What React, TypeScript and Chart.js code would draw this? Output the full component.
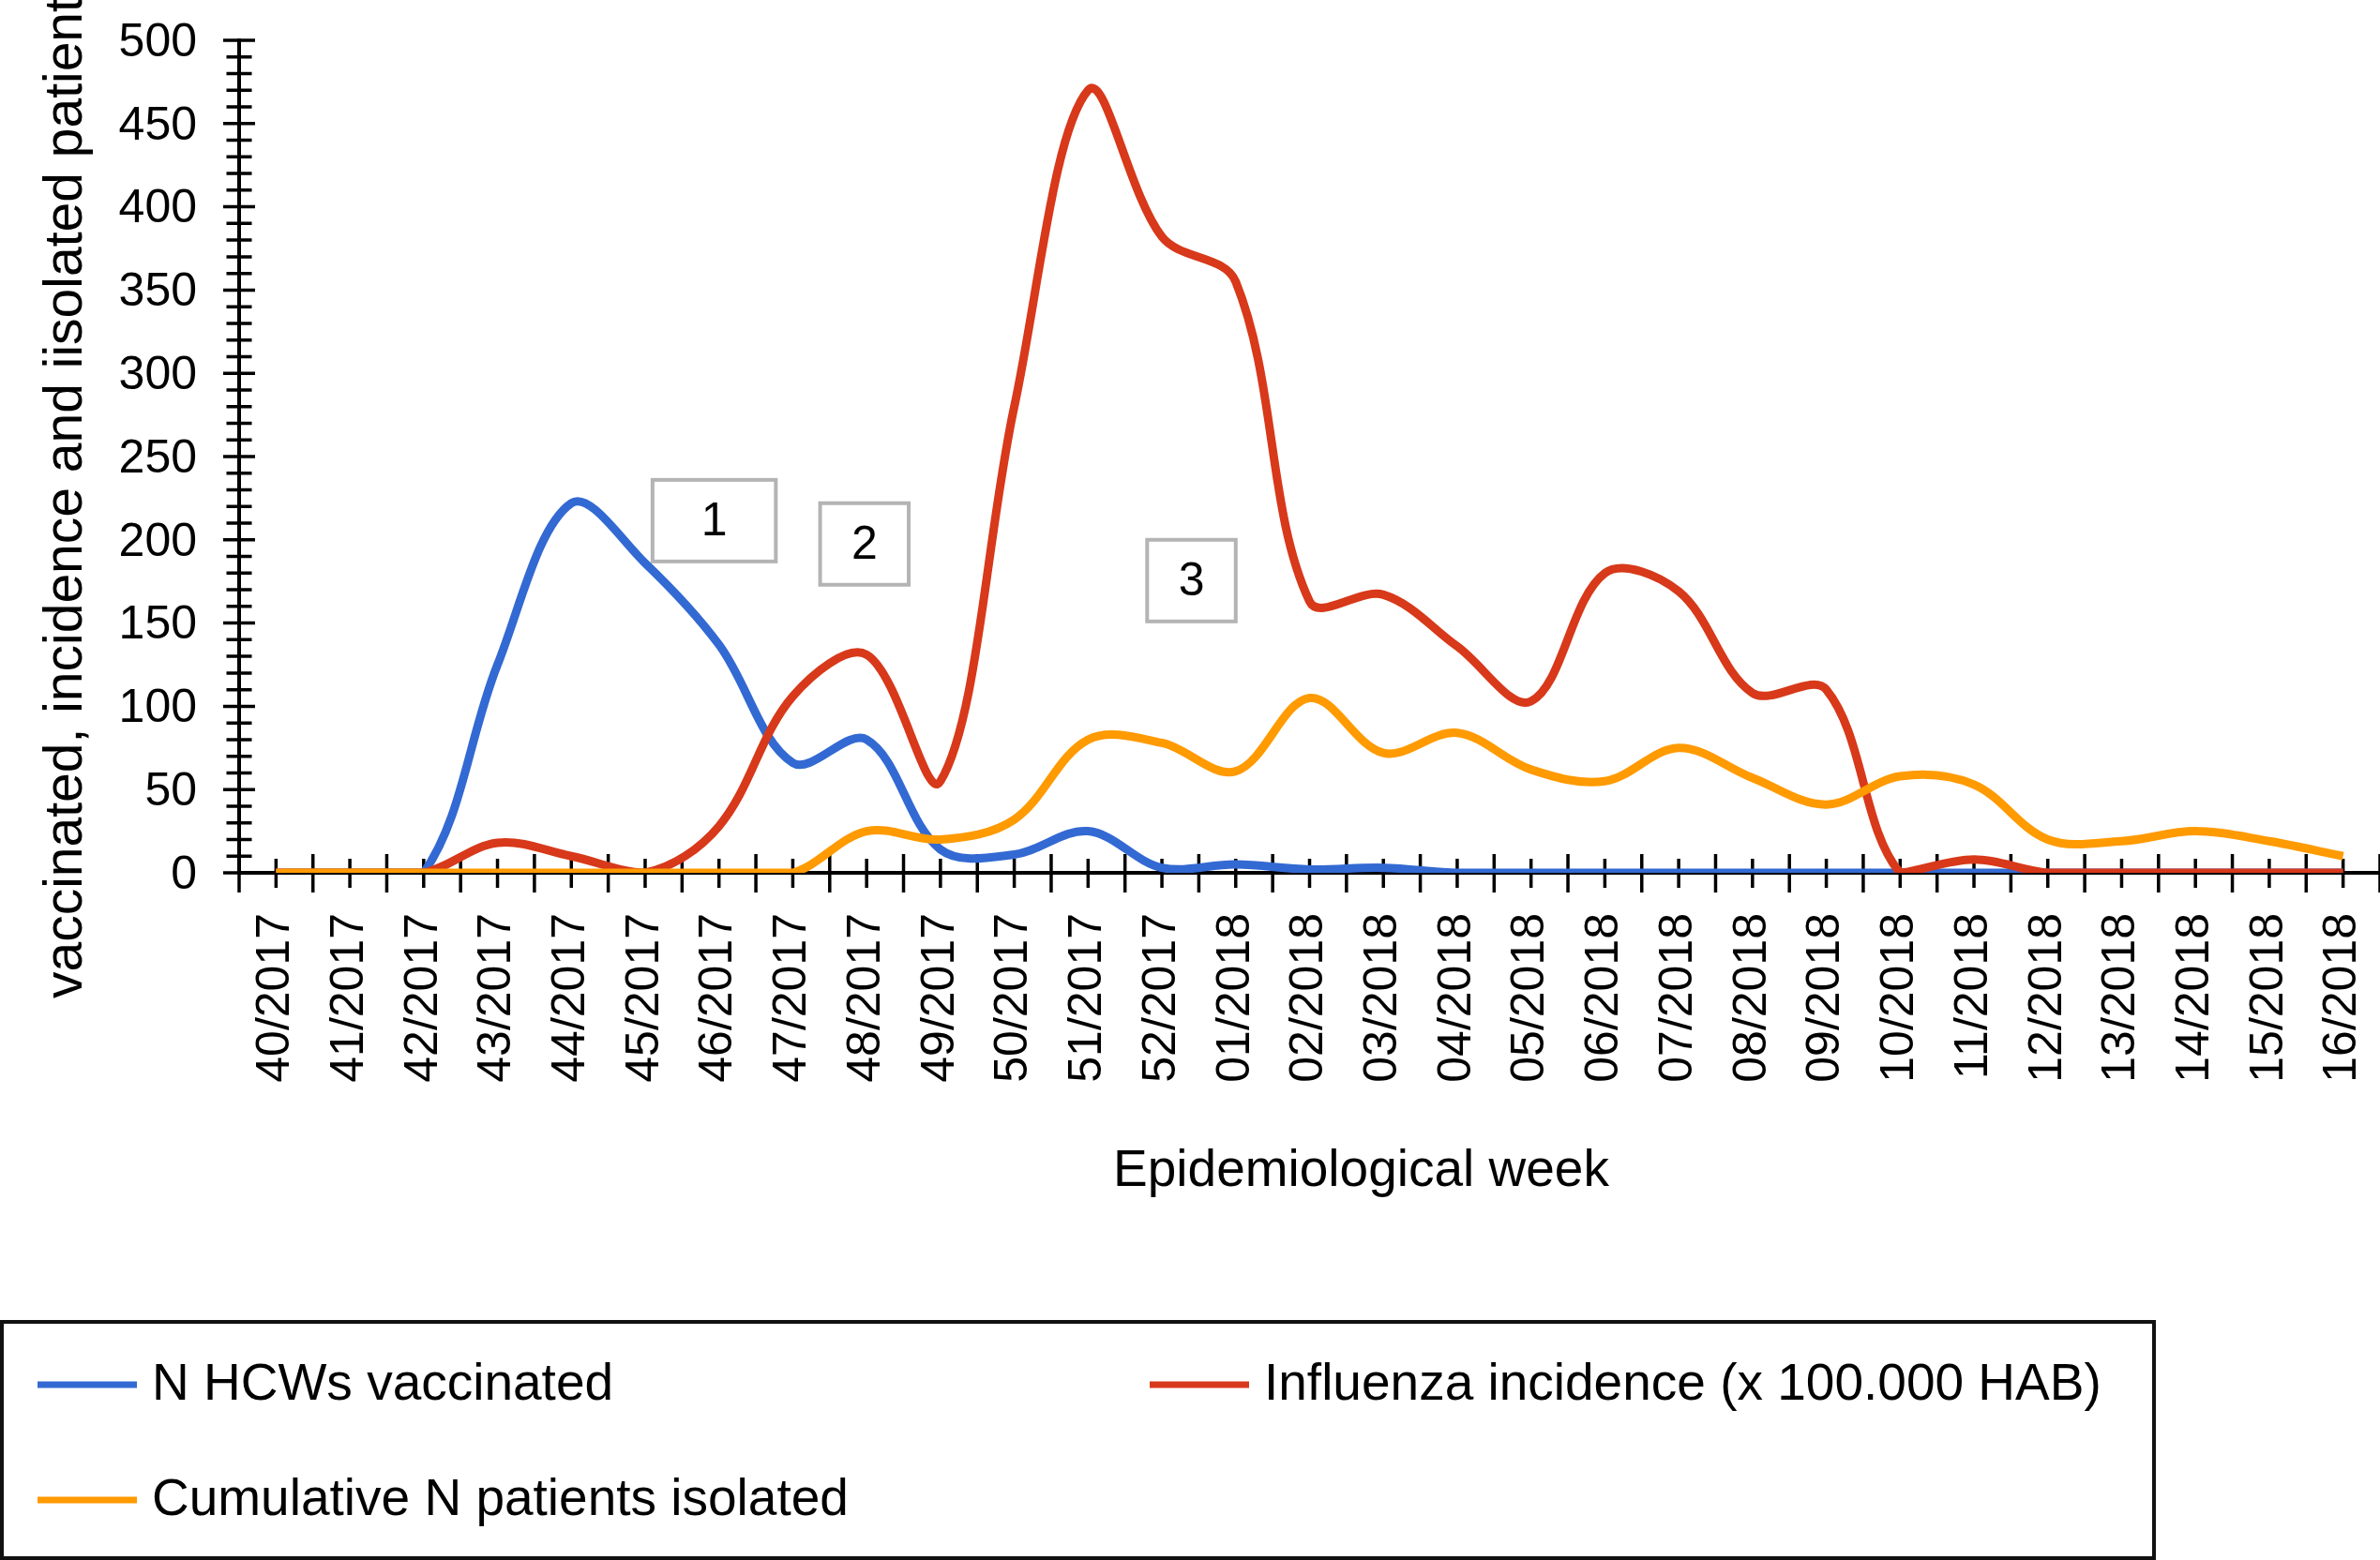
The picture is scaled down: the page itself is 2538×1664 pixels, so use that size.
import { useEffect, useRef } from "react";
import { Chart, registerables, type Plugin } from "chart.js";

Chart.register(...registerables);

const weeks = [
  "40/2017", "41/2017", "42/2017", "43/2017", "44/2017", "45/2017", "46/2017",
  "47/2017", "48/2017", "49/2017", "50/2017", "51/2017", "52/2017",
  "01/2018", "02/2018", "03/2018", "04/2018", "05/2018", "06/2018", "07/2018",
  "08/2018", "09/2018", "10/2018", "11/2018", "12/2018", "13/2018", "14/2018",
  "15/2018", "16/2018",
];

const vaccinated = [0, 0, 0, 125, 222, 186, 137, 66, 80, 14, 11, 25, 3, 5, 2, 3, 0, 0, 0, 0, 0, 0, 0, 0, 0, 0, 0, 0, 0];
const incidence = [0, 0, 0, 18, 10, 0, 28, 106, 131, 55, 280, 470, 382, 355, 163, 167, 136, 103, 180, 169, 108, 110, 0, 8, 0, 0, 0, 0, 0];
const isolated = [0, 0, 0, 0, 0, 0, 0, 0, 25, 20, 32, 80, 78, 61, 105, 72, 84, 62, 55, 75, 57, 41, 58, 53, 20, 19, 25, 19, 10];

const seriesNames = ["N HCWs vaccinated", "Influenza incidence (x 100.000 HAB)", "Cumulative N patients isolated"];
const seriesColors = ["#3369D2", "#D7391A", "#FF9A00"];

const yMax = 500;
const yStep = 50;
const yMinorStep = 10;

const xTitle = "Epidemiological week";
const yTitle = "vaccinated, incidence and iisolated patients";

// numbered boxes: category span (fractional index) and value span
const notes = [
  { text: "1", from: 5.1, to: 6.77, top: 236, bottom: 187 },
  { text: "2", from: 7.37, to: 8.57, top: 222, bottom: 173 },
  { text: "3", from: 11.8, to: 13.0, top: 200, bottom: 151 },
];

const FONT = '"Liberation Sans", Arial, Helvetica, sans-serif';

const decorations: Plugin<"line"> = {
  id: "decorations",
  beforeDatasetsDraw(chart) {
    const { ctx, chartArea: a, scales } = chart;
    const x = scales.x;
    const y = scales.y;
    ctx.save();
    ctx.strokeStyle = "#000";
    ctx.lineWidth = 3.5;
    ctx.beginPath();
    for (let i = 0; i < weeks.length; i++) {
      const px = x.getPixelForValue(i);
      ctx.moveTo(px, a.bottom - 15);
      ctx.lineTo(px, a.bottom + 16);
    }
    for (let i = 0; i <= weeks.length; i++) {
      const px = x.getPixelForValue(i - 0.5);
      ctx.moveTo(px, a.bottom - 20);
      ctx.lineTo(px, a.bottom + 21);
    }
    for (let v = 0; v <= yMax; v += yMinorStep) {
      const py = y.getPixelForValue(v);
      const half = v % yStep === 0 ? 17 : 13.5;
      ctx.moveTo(a.left - half, py);
      ctx.lineTo(a.left + half, py);
    }
    ctx.stroke();

    // numbered boxes (under the lines)
    ctx.font = `50px ${FONT}`;
    ctx.textAlign = "center";
    ctx.textBaseline = "middle";
    for (const n of notes) {
      const l = x.getPixelForValue(n.from);
      const r = x.getPixelForValue(n.to);
      const t = y.getPixelForValue(n.top);
      const b = y.getPixelForValue(n.bottom);
      ctx.fillStyle = "#fff";
      ctx.fillRect(l, t, r - l, b - t);
      ctx.strokeStyle = "#B4B4B4";
      ctx.lineWidth = 4;
      ctx.strokeRect(l, t, r - l, b - t);
      ctx.fillStyle = "#000";
      ctx.fillText(n.text, (l + r) / 2, (t + b) / 2 + 2);
    }
    ctx.restore();
  },
  afterDraw(chart) {
    const { ctx, chartArea: a } = chart;
    ctx.save();

    // axis titles
    ctx.fillStyle = "#000";
    ctx.font = `55px ${FONT}`;
    ctx.textAlign = "center";
    ctx.textBaseline = "alphabetic";
    ctx.fillText(xTitle, (a.left + a.right) / 2 + 55, a.bottom + 334);

    ctx.save();
    ctx.translate(a.left - 168, a.bottom + 134);
    ctx.rotate(-Math.PI / 2);
    ctx.font = `57px ${FONT}`;
    ctx.textAlign = "left";
    ctx.fillText(yTitle, 0, 0);
    ctx.restore();

    // legend box
    const W = chart.width;
    const H = chart.height;
    ctx.strokeStyle = "#111";
    ctx.lineWidth = 4;
    ctx.strokeRect(2, H - 254, W - 243, 252);
    const colX = [40, 1226];
    const rowY = [H - 187, H - 64];
    const slots = [
      [colX[0], rowY[0]],
      [colX[1], rowY[0]],
      [colX[0], rowY[1]],
    ];
    ctx.font = `55px ${FONT}`;
    ctx.textAlign = "left";
    ctx.textBaseline = "middle";
    chart.data.datasets.forEach((ds, i) => {
      const [lx, ly] = slots[i];
      ctx.strokeStyle = ds.borderColor as string;
      ctx.lineWidth = 7;
      ctx.lineCap = "butt";
      ctx.beginPath();
      ctx.moveTo(lx, ly);
      ctx.lineTo(lx + 106, ly);
      ctx.stroke();
      ctx.fillStyle = "#000";
      ctx.fillText(ds.label ?? "", lx + 122, ly + 1);
    });
    ctx.restore();
  },
};

export default function App() {
  const ref = useRef<HTMLCanvasElement | null>(null);

  useEffect(() => {
    const el = ref.current;
    if (!el) return;
    const series = [vaccinated, incidence, isolated];
    const chart = new Chart(el, {
      type: "line",
      data: {
        labels: weeks,
        datasets: series.map((d, i) => ({
          label: seriesNames[i],
          data: d,
          borderColor: seriesColors[i],
          backgroundColor: seriesColors[i],
          borderWidth: 9,
          pointRadius: 0,
          tension: 0.35,
          fill: false,
          order: 2 - i,
        })),
      },
      options: {
        responsive: false,
        devicePixelRatio: 1,
        animation: false,
        layout: { padding: { top: 43, left: 0, right: 0, bottom: 0 } },
        plugins: {
          legend: { display: false },
          tooltip: { enabled: false },
        },
        scales: {
          x: {
            type: "category",
            offset: true,
            grid: { display: false },
            border: { display: true, color: "#000", width: 4 },
            ticks: {
              autoSkip: false,
              minRotation: 90,
              maxRotation: 90,
              padding: 35,
              color: "#000",
              font: { family: FONT, size: 50 },
            },
            afterFit: (scale) => {
              scale.height = 733;
              scale.paddingLeft = 0;
              scale.paddingRight = 0;
            },
          },
          y: {
            min: 0,
            max: yMax,
            grid: { display: false },
            border: { display: true, color: "#000", width: 4 },
            ticks: {
              stepSize: yStep,
              padding: 37,
              labelOffset: 3,
              color: "#000",
              font: { family: FONT, size: 50 },
            },
            afterFit: (scale) => {
              scale.width = 255;
              scale.paddingTop = 0;
              scale.paddingBottom = 0;
            },
          },
        },
      },
      plugins: [decorations],
    });
    return () => {
      chart.destroy();
    };
  }, []);

  return (
    <div style={{ position: "absolute", left: 0, top: 0, width: 2538, height: 1664, background: "#fff" }}>
      <canvas ref={ref} width={2538} height={1664} />
    </div>
  );
}
